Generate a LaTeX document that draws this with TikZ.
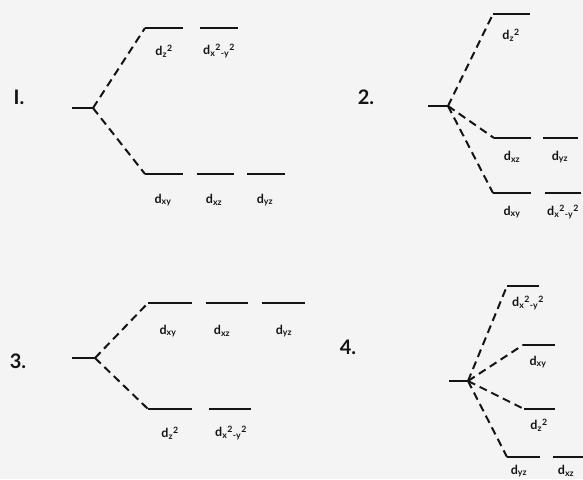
\documentclass[tikz,border=0pt]{standalone}
\usepackage{fontspec}
\setmainfont{Lato}
\definecolor{bg}{RGB}{244,244,244}
\definecolor{ink}{RGB}{20,20,20}
\newcommand{\dlab}[2]{d\textsubscript{#1}#2}
\newcommand{\supt}{\textsuperscript{2}}
\begin{document}
\begin{tikzpicture}[x=1pt,y=-1pt,
  level/.style={draw=ink,line width=2.2pt},
  stem/.style={draw=ink,line width=2.2pt},
  conn/.style={draw=ink,line width=2pt,dash pattern=on 8pt off 5pt},
  orb/.style={font=\fontsize{12.5}{14}\selectfont\bfseries,text=ink,inner sep=0pt},
  num/.style={font=\fontsize{20}{24}\selectfont\bfseries,text=ink,inner sep=0pt}]
\fill[bg] (0,0) rectangle (583,479);
\useasboundingbox (0,0) rectangle (583,479);

% ---------- Panel 1 ----------
\node[num] (n1) at (19,97) {I.};
\coordinate (s1) at (72,108); \coordinate (f1) at (93,108);
\coordinate (a1) at (145,28); \coordinate (a1e) at (183,28);
\coordinate (a2) at (200,28); \coordinate (a2e) at (238,28);
\coordinate (b1) at (145,174); \coordinate (b1e) at (183,174);
\coordinate (b2) at (197,174); \coordinate (b2e) at (234,174);
\coordinate (b3) at (247,174); \coordinate (b3e) at (285,174);
\draw[stem] (s1) -- (f1);
\draw[conn] (f1) -- (a1);
\draw[conn] (f1) -- (b1);
\draw[level] (a1) -- (a1e); \draw[level] (a2) -- (a2e);
\draw[level] (b1) -- (b1e); \draw[level] (b2) -- (b2e); \draw[level] (b3) -- (b3e);
\node[orb] (l1a) at (164,51) {\dlab{z}{\supt}};
\node[orb] (l1b) at (219,51) {d\textsubscript{x}\supt\textsubscript{-y}\supt};
\node[orb] (l1c) at (163,200) {\dlab{xy}{}};
\node[orb] (l1d) at (214,200) {\dlab{xz}{}};
\node[orb] (l1e) at (265,200) {\dlab{yz}{}};

% ---------- Panel 2 ----------
\node[num] (n2) at (366,97) {2.};
\coordinate (s2) at (428,106); \coordinate (f2) at (448,106);
\coordinate (c1) at (493,14); \coordinate (c1e) at (530,14);
\coordinate (c2) at (494,138); \coordinate (c2e) at (531,138);
\coordinate (c3) at (543,138); \coordinate (c3e) at (578,138);
\coordinate (c4) at (493,193); \coordinate (c4e) at (531,193);
\coordinate (c5) at (545,193); \coordinate (c5e) at (581,193);
\draw[stem] (s2) -- (f2);
\draw[conn] (f2) -- (c1);
\draw[conn] (f2) -- (c2);
\draw[conn] (f2) -- (c4);
\draw[level] (c1) -- (c1e); \draw[level] (c2) -- (c2e); \draw[level] (c3) -- (c3e);
\draw[level] (c4) -- (c4e); \draw[level] (c5) -- (c5e);
\node[orb] (l2a) at (511,35) {\dlab{z}{\supt}};
\node[orb] (l2b) at (512,157) {\dlab{xz}{}};
\node[orb] (l2c) at (560,157) {\dlab{yz}{}};
\node[orb] (l2d) at (512,212) {\dlab{xy}{}};
\node[orb] (l2e) at (563,212) {d\textsubscript{x}\supt\textsubscript{-y}\supt};

% ---------- Panel 3 ----------
\node[num] (n3) at (18,361) {3.};
\coordinate (s3) at (72,358); \coordinate (f3) at (95,358);
\coordinate (d1) at (148,303); \coordinate (d1e) at (192,303);
\coordinate (d2) at (206,303); \coordinate (d2e) at (248,303);
\coordinate (d3) at (262,303); \coordinate (d3e) at (305,303);
\coordinate (e1) at (148,409); \coordinate (e1e) at (192,409);
\coordinate (e2) at (209,409); \coordinate (e2e) at (251,409);
\draw[stem] (s3) -- (f3);
\draw[conn] (f3) -- (d1);
\draw[conn] (f3) -- (e1);
\draw[level] (d1) -- (d1e); \draw[level] (d2) -- (d2e); \draw[level] (d3) -- (d3e);
\draw[level] (e1) -- (e1e); \draw[level] (e2) -- (e2e);
\node[orb] (l3a) at (168,331) {\dlab{xy}{}};
\node[orb] (l3b) at (222,331) {\dlab{xz}{}};
\node[orb] (l3c) at (284,331) {\dlab{yz}{}};
\node[orb] (l3d) at (170,433) {\dlab{z}{\supt}};
\node[orb] (l3e) at (231,433) {d\textsubscript{x}\supt\textsubscript{-y}\supt};

% ---------- Panel 4 ----------
\node[num] (n4) at (348,347) {4.};
\coordinate (s4) at (449,381); \coordinate (f4) at (468,381);
\coordinate (g1) at (507,286); \coordinate (g1e) at (539,286);
\coordinate (g2) at (523,345); \coordinate (g2e) at (555,345);
\coordinate (g3) at (524,409); \coordinate (g3e) at (555,409);
\coordinate (g4) at (507,457); \coordinate (g4e) at (540,457);
\coordinate (g5) at (553,457); \coordinate (g5e) at (583,457);
\draw[stem] (s4) -- (f4);
\draw[conn] (f4) -- (g1);
\draw[conn] (f4) -- (g2);
\draw[conn] (f4) -- (g3);
\draw[conn] (f4) -- (g4);
\draw[level] (g1) -- (g1e); \draw[level] (g2) -- (g2e); \draw[level] (g3) -- (g3e);
\draw[level] (g4) -- (g4e); \draw[level] (g5) -- (g5e);
\node[orb] (l4a) at (528,303) {d\textsubscript{x}\supt\textsubscript{-y}\supt};
\node[orb] (l4b) at (538,362) {\dlab{xy}{}};
\node[orb] (l4c) at (539,425) {\dlab{z}{\supt}};
\node[orb] (l4d) at (519,471) {\dlab{yz}{}};
\node[orb] (l4e) at (566,471) {\dlab{xz}{}};
\end{tikzpicture}
\end{document}
